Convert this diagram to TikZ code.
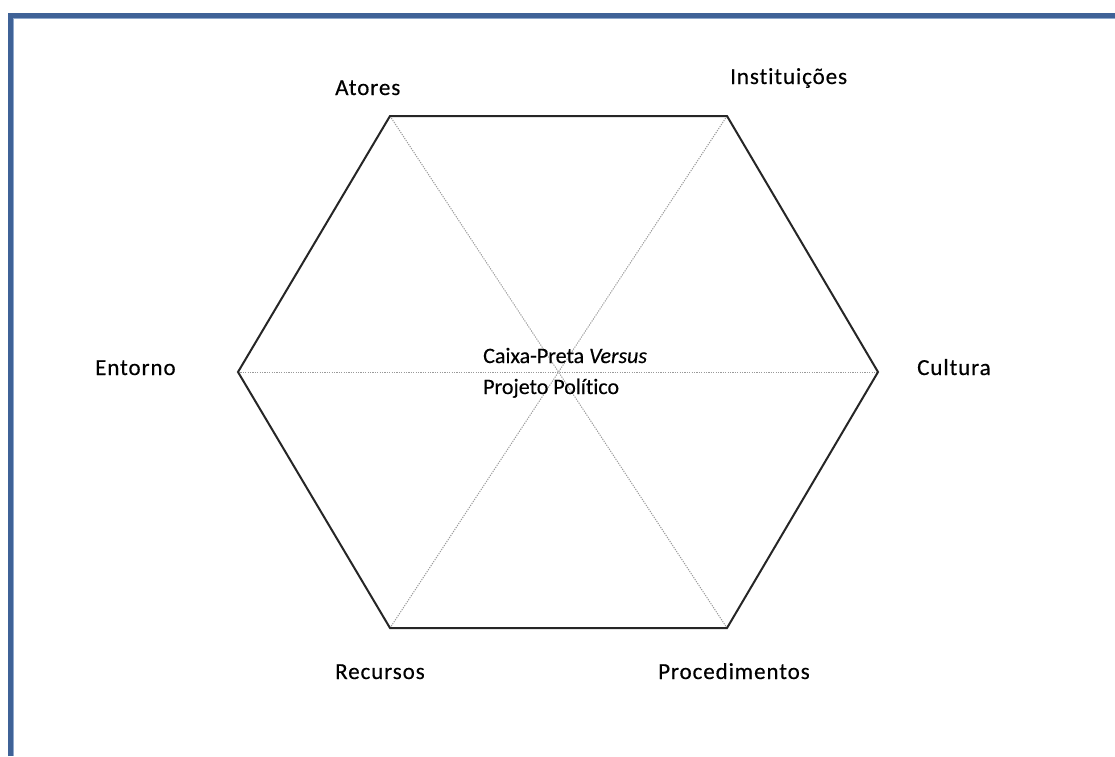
\documentclass[tikz,border=0pt]{standalone}
\usepackage{fontspec}
\setmainfont{Carlito}[Ligatures=NoCommon,LetterSpace=4,FakeBold=0.4]
\newfontfamily\centrefont{Carlito}[Ligatures=NoCommon,FakeBold=0.4]
\definecolor{framecol}{HTML}{3F6297}
\definecolor{framelight}{HTML}{8FA8CC}
\definecolor{diagcol}{HTML}{9A9A9A}
\begin{document}
\begin{tikzpicture}[x=1pt,y=-1pt,
  edge/.style={line width=2pt,draw=black!85,line join=miter},
  spoke/.style={line width=1pt,draw=diagcol,dash pattern=on 1.2pt off 1.2pt},
  lbl/.style={font=\fontsize{23}{27}\selectfont,text=black,inner sep=0pt},
  midlbl/.style={font=\centrefont\fontsize{22}{27}\selectfont,text=black,inner sep=0pt}]
\useasboundingbox (0,0) rectangle (1115,756);
\fill[white] (0,0) rectangle (1115,756);
% page frame (left and top edges)
\draw[framecol,line width=4.5pt] (10.5,756) -- (10.5,15.3) -- (1115,15.3);
\draw[framelight,line width=0.8pt] (13.2,756) -- (13.2,18) -- (1115,18);
% hexagon corners
\coordinate (tl) at (390,116);
\coordinate (tr) at (727,116);
\coordinate (r)  at (878,372);
\coordinate (br) at (727,628);
\coordinate (bl) at (390,628);
\coordinate (l)  at (238,372);
% spokes through the centre
\draw[spoke] (tl) -- (br);
\draw[spoke] (tr) -- (bl);
\draw[spoke] (l) -- (r);
% hexagon outline
\draw[edge] (tl) -- (tr) -- (r) -- (br) -- (bl) -- (l) -- cycle;
% corner labels
\node[lbl,anchor=base west] (atores) at (335,95) {Atores};
\node[lbl,anchor=base west] (inst) at (730,84) {Instituições};
\node[lbl,anchor=base west] (entorno) at (95,375) {Entorno};
\node[lbl,anchor=base west] (cultura) at (917,375) {Cultura};
\node[lbl,anchor=base west] (recursos) at (335,679) {Recursos};
\node[lbl,anchor=base west] (proc) at (658,679) {Procedimentos};
% centre label
\node[midlbl,anchor=base west] (c1) at (483,363) {Caixa-Preta \textit{Versus}};
\node[midlbl,anchor=base west] (c2) at (483,394) {Projeto Político};
\end{tikzpicture}
\end{document}
